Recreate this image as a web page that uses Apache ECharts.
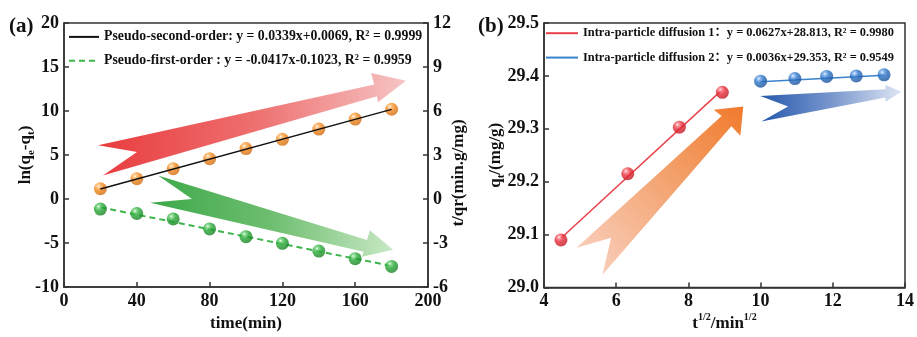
<!DOCTYPE html>
<html><head><meta charset="utf-8">
<script src="https://cdn.jsdelivr.net/npm/echarts@6/dist/echarts.min.js"></script>
<style>html,body{margin:0;padding:0;background:#fff}#c{width:917px;height:337px}</style>
</head><body><div id="c"></div>
<script>
// ---------- data ----------
const timeMin = [20, 40, 60, 80, 100, 120, 140, 160, 180];
const tOverQt = [0.70, 1.38, 2.07, 2.75, 3.44, 4.07, 4.77, 5.45, 6.12];
const lnQeQt = [-1.15, -1.65, -2.26, -3.40, -4.28, -5.04, -5.92, -6.78, -7.66];
const fitSecondX = [20, 180];
const fitSecondY = [0.685, 6.109];
const fitFirstX = [20, 180];
const fitFirstY = [-0.94, -7.61];

const sqrtT1 = [4.47, 6.32, 7.75, 8.94];
const qt1 = [29.090, 29.215, 29.303, 29.369];
const sqrtT2 = [10.00, 10.95, 11.83, 12.65, 13.42];
const qt2 = [29.390, 29.395, 29.399, 29.400, 29.402];
const fit1X = [4.47, 8.94];
const fit1Y = [29.093, 29.374];
const fit2X = [10.00, 13.42];
const fit2Y = [29.389, 29.401];

const nameSecond = 'Pseudo-second-order: y = 0.0339x+0.0069, R² = 0.9999';
const nameFirst = 'Pseudo-first-order : y = -0.0417x-0.1023, R² = 0.9959';
const nameIPD1 = 'Intra-particle diffusion 1：y = 0.0627x+28.813, R² = 0.9980';
const nameIPD2 = 'Intra-particle diffusion 2：y = 0.0036x+29.353, R² = 0.9549';

// decorative arrows (outline vertices in data units of each panel)
const arrowRedA = [[18.7,6.1],[170.5,13.0],[168.7,14.33],[187.9,13.44],[172.5,11.0],[172.0,11.67],[21.4,2.67],[40.1,5.33]];
const arrowGreenA = [[51.7,2.67],[166.5,-4.67],[168.1,-3.56],[180.8,-5.78],[163.8,-6.56],[164.6,-6.0],[47.3,-0.44],[70.3,0]];
const arrowOrangeB = [[4.90,29.075],[8.92,29.324],[8.70,29.336],[9.52,29.342],[9.44,29.287],[9.19,29.305],[5.62,29.024],[5.86,29.094]];
const arrowBlueB = [[9.99,29.362],[13.46,29.375],[13.46,29.383],[13.90,29.370],[13.46,29.351],[13.46,29.359],[10.02,29.314],[10.76,29.342]];

// ---------- styling ----------
const FONT = "'Liberation Serif', 'Times New Roman', serif";
const LEGFONT = "'Liberation Serif', 'Noto Sans CJK SC', serif";
const AX = '#333';
const zip = (xs, ys) => xs.map((x, i) => [x, ys[i]]);
function ball(light, base, dark) {
  return new echarts.graphic.RadialGradient(0.36, 0.3, 0.72, [
    {offset: 0, color: '#ffffff'}, {offset: 0.14, color: light},
    {offset: 0.45, color: base}, {offset: 1, color: dark}]);
}
const labelStyle = {fontFamily: FONT, fontWeight: 'bold', fontSize: 18, color: '#111'};
const nameStyleBase = {fontFamily: FONT, fontWeight: 'bold', fontSize: 17, color: '#111',
  rich: {
    m: {fontFamily: FONT, fontWeight: 'bold', fontSize: 17, color: '#111', lineHeight: 22},
    sub: {fontFamily: FONT, fontWeight: 'bold', fontSize: 11, color: '#111', lineHeight: 11, verticalAlign: 'bottom'},
    sup: {fontFamily: FONT, fontWeight: 'bold', fontSize: 10, color: '#111', lineHeight: 10, verticalAlign: 'top'}
  }};
function axisCommon(extra) {
  return Object.assign({
    axisLine: {show: true, onZero: false, lineStyle: {color: AX, width: 1.5}},
    axisTick: {show: true, inside: true, length: 5, lineStyle: {color: AX, width: 1.5}},
    axisLabel: Object.assign({margin: 5}, labelStyle),
    splitLine: {show: false},
    nameLocation: 'middle',
    nameMoveOverlap: false,
    nameTextStyle: nameStyleBase
  }, extra);
}
const legendItemStyle = {color: 'transparent', borderColor: 'transparent', borderWidth: 0, opacity: 0};

const chart = echarts.init(document.getElementById('c'), null, {renderer: 'canvas'});
const option = {
  animation: false,
  backgroundColor: '#fff',
  title: [
    {text: '(a)', left: 4, top: 11, textStyle: {fontFamily: FONT, fontWeight: 'bold', fontSize: 21, color: '#111'}},
    {text: '(b)', left: 473, top: 11, textStyle: {fontFamily: FONT, fontWeight: 'bold', fontSize: 21, color: '#111'}}
  ],
  grid: [
    {left: 64, right: 489, top: 23, bottom: 44, show: true, borderColor: AX, borderWidth: 1.5, backgroundColor: 'transparent'},
    {left: 544, right: 9, top: 23, bottom: 44, show: true, borderColor: AX, borderWidth: 1.5, backgroundColor: 'transparent'}
  ],
  xAxis: [
    axisCommon({gridIndex: 0, type: 'value', min: 0, max: 200, interval: 40,
      name: 'time(min)', nameGap: 28}),
    axisCommon({gridIndex: 1, type: 'value', min: 4, max: 14, interval: 2,
      name: '{m|t}{sup|1/2}{m|/min}{sup|1/2}', nameGap: 25})
  ],
  yAxis: [
    axisCommon({gridIndex: 0, type: 'value', position: 'left', min: -10, max: 20, interval: 5,
      name: '{m|ln(q}{sub|e}{m|-q}{sub|t}{m|)}', nameGap: 27, nameRotate: 90}),
    axisCommon({gridIndex: 0, type: 'value', position: 'right', min: -6, max: 12, interval: 3,
      name: 't/qr(min.g/mg)', nameGap: 22, nameRotate: 90,
      nameTextStyle: Object.assign({}, nameStyleBase, {padding: [0, 36, 0, 0]})}),
    axisCommon({gridIndex: 1, type: 'value', position: 'left', min: 29.0, max: 29.5, interval: 0.1,
      name: '{m|q}{sub|t}{m|/(mg/g)}', nameGap: 37, nameRotate: 90,
      axisLabel: Object.assign({margin: 5, formatter: v => v.toFixed(1)}, labelStyle)})
  ],
  legend: [
    {orient: 'vertical', left: 63, top: 25, itemWidth: 30, itemHeight: 14, itemGap: 10,
      data: [nameSecond, nameFirst], itemStyle: legendItemStyle,
      textStyle: {fontFamily: LEGFONT, fontWeight: 'bold', fontSize: 13.8, color: '#111'}},
    {orient: 'vertical', left: 540, top: 22, itemWidth: 32, itemHeight: 14, itemGap: 12,
      data: [nameIPD1, nameIPD2], itemStyle: legendItemStyle,
      textStyle: {fontFamily: LEGFONT, fontWeight: 'bold', fontSize: 12.4, color: '#111'}}
  ],
  series: [
    {name: nameSecond, type: 'line', xAxisIndex: 0, yAxisIndex: 1, data: zip(fitSecondX, fitSecondY),
      symbol: 'none', z: 4, lineStyle: {color: '#111', width: 1.5}, itemStyle: {color: '#111'}},
    {name: nameFirst, type: 'line', xAxisIndex: 0, yAxisIndex: 0, data: zip(fitFirstX, fitFirstY),
      symbol: 'none', z: 2, lineStyle: {color: '#3db54a', width: 2, type: [6, 4]}, itemStyle: {color: '#3db54a'}},
    {name: 'tqt', type: 'scatter', xAxisIndex: 0, yAxisIndex: 1, data: zip(timeMin, tOverQt),
      symbolSize: 13, z: 3, itemStyle: {color: ball('#ffc07a', '#f28a1e', '#d06a10')}},
    {name: 'ln', type: 'scatter', xAxisIndex: 0, yAxisIndex: 0, data: zip(timeMin, lnQeQt),
      symbolSize: 13, z: 3, itemStyle: {color: ball('#7fd886', '#27a835', '#178224')}},
    {name: nameIPD1, type: 'line', xAxisIndex: 1, yAxisIndex: 2, data: zip(fit1X, fit1Y),
      symbol: 'none', z: 2, lineStyle: {color: '#e8424c', width: 1.5}, itemStyle: {color: '#e8424c'}},
    {name: nameIPD2, type: 'line', xAxisIndex: 1, yAxisIndex: 2, data: zip(fit2X, fit2Y),
      symbol: 'none', z: 2, lineStyle: {color: '#3b82cc', width: 1.5}, itemStyle: {color: '#3b82cc'}},
    {name: 'ipd1pts', type: 'scatter', xAxisIndex: 1, yAxisIndex: 2, data: zip(sqrtT1, qt1),
      symbolSize: 13, z: 3, itemStyle: {color: ball('#ff8a92', '#e62c38', '#c01a26')}},
    {name: 'ipd2pts', type: 'scatter', xAxisIndex: 1, yAxisIndex: 2, data: zip(sqrtT2, qt2),
      symbolSize: 13, z: 3, itemStyle: {color: ball('#7fb2ee', '#2a72c4', '#1a529c')}}
  ]
};
chart.setOption(option);

function arrowGraphic(pts, finder, grad, stops) {
  const px = pts.map(p => chart.convertToPixel(finder, p));
  return {type: 'polygon', z: 1, silent: true,
    shape: {points: px},
    style: {fill: new echarts.graphic.LinearGradient(grad[0], grad[1], grad[2], grad[3], stops)}};
}
chart.setOption({graphic: {elements: [
  arrowGraphic(arrowRedA, {xAxisIndex: 0, yAxisIndex: 0}, [0, 0, 1, 0],
    [{offset: 0, color: 'rgb(233,60,62)'}, {offset: 0.5, color: 'rgb(238,110,110)'}, {offset: 1, color: 'rgb(246,196,196)'}]),
  arrowGraphic(arrowGreenA, {xAxisIndex: 0, yAxisIndex: 0}, [0, 0, 1, 0],
    [{offset: 0, color: 'rgb(60,168,72)'}, {offset: 0.5, color: 'rgb(110,190,112)'}, {offset: 1, color: 'rgb(200,232,196)'}]),
  arrowGraphic(arrowOrangeB, {xAxisIndex: 1, yAxisIndex: 2}, [0, 1, 1, 0],
    [{offset: 0, color: 'rgb(250,212,198)'}, {offset: 0.5, color: 'rgb(244,168,120)'}, {offset: 1, color: 'rgb(240,122,44)'}]),
  arrowGraphic(arrowBlueB, {xAxisIndex: 1, yAxisIndex: 2}, [0, 0, 1, 0],
    [{offset: 0, color: 'rgb(38,88,172)'}, {offset: 0.5, color: 'rgb(120,150,205)'}, {offset: 1, color: 'rgb(222,230,244)'}])
]}});
</script>
</body></html>
